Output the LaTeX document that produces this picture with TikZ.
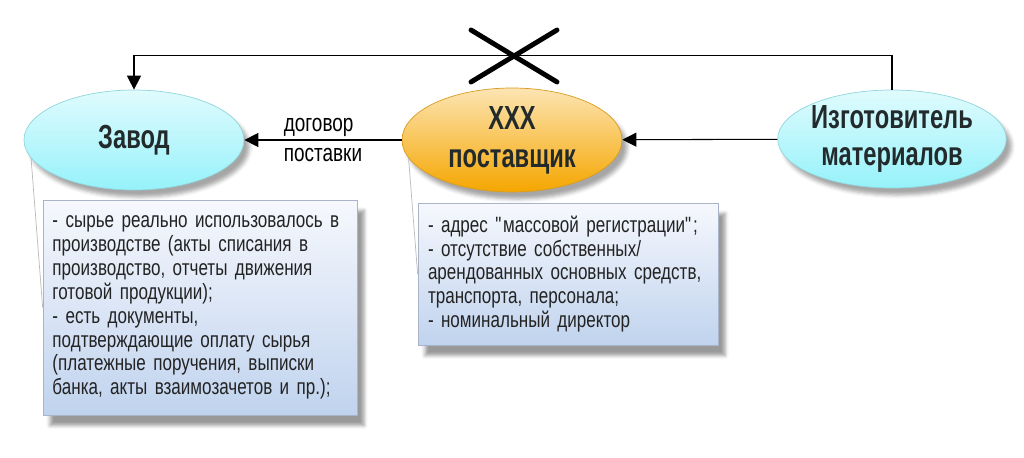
\documentclass[tikz,border=0pt]{standalone}
\usepackage{fontspec}
\setmainfont[FakeStretch=0.77]{Liberation Sans}
\newfontfamily\bubblefont[FakeStretch=0.71]{Liberation Sans}
\usetikzlibrary{shapes.geometric,arrows.meta,shadows.blur,calc}
\definecolor{bubblecyan}{RGB}{150,242,250}
\definecolor{bubbleorange}{RGB}{245,166,0}
\definecolor{labeltext}{RGB}{35,42,44}
\definecolor{notetop}{RGB}{246,248,253}
\definecolor{notebot}{RGB}{192,211,238}
\definecolor{notebord}{RGB}{170,180,200}
\definecolor{boxtext}{RGB}{35,35,35}

\begin{document}
\begin{tikzpicture}[
    party/.style={ellipse, draw=#1!75!gray, thin, top color=#1!30!white, bottom color=#1,
        minimum width=4.4cm, minimum height=2cm, inner sep=0pt, align=center, text=labeltext,
        font=\bubblefont\fontsize{19}{21.5}\selectfont\bfseries,
        blur shadow={shadow xshift=3pt, shadow yshift=-4pt, shadow opacity=35}},
    notebox/.style={rectangle, draw=notebord, top color=notetop, bottom color=notebot,
        inner xsep=0.19cm, inner ysep=0.22cm, align=left, text=boxtext,
        font=\fontsize{12.6}{13.6}\selectfont,
        blur shadow={shadow xshift=4pt, shadow yshift=-6pt, shadow opacity=40}},
    conn/.style={-{Triangle[length=8pt,width=8pt]}, line width=0.6pt},
    callout/.style={draw=gray!55, line width=0.4pt},
    lbl/.style={align=left, font=\fontsize{14}{17}\selectfont}
]
    \useasboundingbox (0,0) rectangle (20.48,9.14);

    % Parties
    \node[party=bubblecyan] (zavod) at (2.68,6.34) {Завод};
    \node[party=bubbleorange, minimum height=2.08cm] (post) at (10.24,6.34) {XXX\\поставщик};
    \node[party=bubblecyan, minimum height=1.96cm] (izg) at (17.84,6.36) {Изготовитель\\материалов};

    % Notes
    \node[notebox, text width=5.9cm, minimum height=4.3cm] (note1) at (4.0,2.99)
        {- сырье реально использовалось в\\ производстве (акты списания в\\ производство, отчеты движения\\ готовой продукции);\\
         - есть документы,\\ подтверждающие оплату сырья\\ (платежные поручения, выписки\\ банка, акты взаимозачетов и пр.);};
    \node[notebox, inner xsep=0.2cm, text width=5.6cm, minimum height=2.84cm] (note2) at (11.36,3.66)
        {- адрес \textquotedbl массовой регистрации\textquotedbl;\\
         - отсутствие собственных/\\ арендованных основных средств,\\ транспорта, персонала;\\
         - номинальный директор};

    % Callouts
    \draw[callout] (zavod.190) -- (note1.west);
    \draw[callout] (post.190) -- (note2.west);

    % Flows
    \draw[conn] (post) -- node[lbl] {договор\\поставки} (zavod);
    \draw[conn] (izg) -- (post);
    \draw[conn] (izg.north) -- ++(0,0.68) -| (zavod.north);

    % Crossed-out link
    \coordinate (cross) at (10.28,8.02);
    \draw[line width=2.8pt, line cap=round] ($(cross)+(-0.86,0.52)$) -- ($(cross)+(0.86,-0.52)$);
    \draw[line width=2.8pt, line cap=round] ($(cross)+(-0.86,-0.52)$) -- ($(cross)+(0.86,0.52)$);
\end{tikzpicture}
\end{document}
